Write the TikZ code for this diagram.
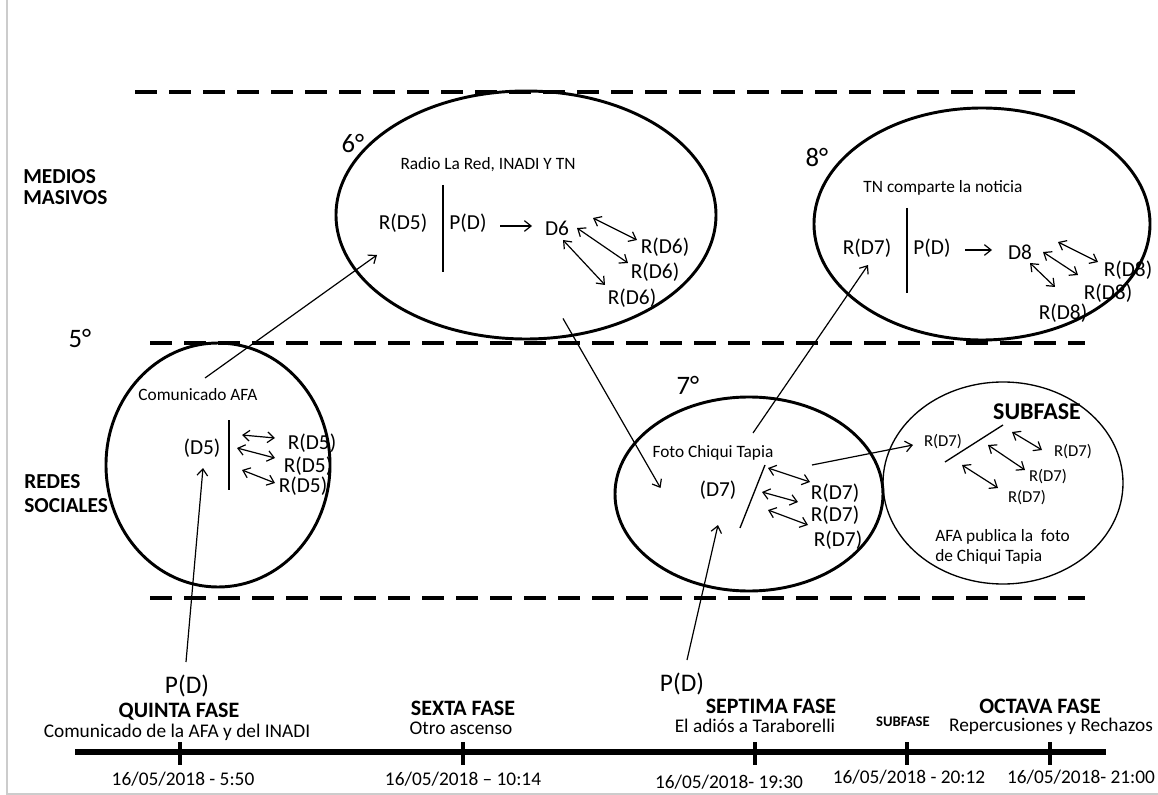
\documentclass[tikz,border=0pt]{standalone}
\usepackage{fontspec}
\setmainfont{Carlito}
\usepackage{tikz}
\usetikzlibrary{shapes,backgrounds}
\usetikzlibrary{arrows.meta}

\begin{document}
\begin{tikzpicture}[x=0.75pt,y=-0.75pt,
    txt/.style={font=\fontsize{16}{19}\selectfont,inner sep=0pt},
    note/.style={font=\fontsize{13}{15}\selectfont,inner sep=0pt},
    chico/.style={font=\fontsize{12.5}{15}\selectfont,inner sep=0pt},
    grado/.style={font=\fontsize{20}{24}\selectfont,inner sep=0pt},
    fase/.style={font=\bfseries\fontsize{16.5}{20}\selectfont,inner sep=0pt},
    lema/.style={font=\fontsize{14.5}{17}\selectfont,inner sep=0pt},
    fecha/.style={font=\fontsize{14.5}{17}\selectfont,inner sep=0pt},
    campo/.style={font=\bfseries\fontsize{16}{16}\selectfont,align=left,inner sep=0pt,anchor=west},
    ring/.style={draw,ellipse,line width=2.2pt,inner sep=0pt},
    limite/.style={line width=3pt,dash pattern=on 16.5pt off 9pt},
    barra/.style={line width=1pt},
    flecha/.style={line width=0.9pt,-{Straight Barb[length=5pt,width=8pt]}},
    ida/.style={line width=0.9pt,{Straight Barb[length=5pt,width=8pt]}-{Straight Barb[length=5pt,width=8pt]}}]
    \useasboundingbox (0,0) rectangle (1158,795);
    \draw[gray!40,line width=1pt] (7,0) -- (7,794) -- (1158,794);

    \draw[limite] (135,92) -- (1085,92);
    \draw[limite] (150,343) -- (1085,343);
    \draw[limite] (150,598) -- (1085,598);

    \node[campo] (medios) at (23,187) {MEDIOS\\MASIVOS};
    \node[campo,font=\bfseries\fontsize{16}{18}\selectfont] (redes) at (24,494) {REDES\\SOCIALES};

    \node[ring,minimum width=285pt,minimum height=186pt] (e6) at (526,215) {};
    \node[ring,minimum width=252pt,minimum height=174pt] (e8) at (982,224) {};
    \node[ring,minimum width=168pt,minimum height=183pt] (c5) at (218,465) {};
    \node[ring,minimum width=201pt,minimum height=145.5pt] (c7) at (749,494) {};
    \node[ring,line width=1pt,minimum width=180pt,minimum height=151.5pt] (cs) at (1003,483) {};

    \node[grado] (g6) at (353,143) {6°};
    \node[note] (radio) at (488,165) {Radio La Red, INADI Y TN};
    \node[txt] (rd5e) at (403,223) {R(D5)};
    \node[txt] (pd6) at (468,223) {P(D)};
    \node[txt] (d6) at (557,228) {D6};
    \node[txt] (rd6a) at (665,247) {R(D6)};
    \node[txt] (rd6b) at (655,272) {R(D6)};
    \node[txt] (rd6c) at (632,298) {R(D6)};
    \draw[barra] (443,185) -- (443,272);
    \draw[flecha] ([shift={(32,3)}]pd6.center) -- ([shift={(-25,-2)}]d6.center);
    \draw[ida] ([shift={(36,-10)}]d6.center) -- ([shift={(-28,-7)}]rd6a.center);
    \draw[ida] ([shift={(20,0)}]d6.center) -- ([shift={(-27,-9)}]rd6b.center);
    \draw[ida] ([shift={(6,12)}]d6.center) -- ([shift={(-27,-13)}]rd6c.center);

    \node[grado] (g8) at (817,157) {8°};
    \node[note] (tn) at (943,188) {TN comparte la noticia};
    \node[txt] (rd7e) at (867,248) {R(D7)};
    \node[txt] (pd8) at (932,248) {P(D)};
    \node[txt] (d8) at (1020,252) {D8};
    \node[txt] (rd8a) at (1128,270) {R(D8)};
    \node[txt] (rd8b) at (1108,293) {R(D8)};
    \node[txt] (rd8c) at (1063,313) {R(D8)};
    \draw[barra] (907,208) -- (907,293);
    \draw[flecha] ([shift={(33,2)}]pd8.center) -- ([shift={(-28,-2)}]d8.center);
    \draw[ida] ([shift={(38,-10)}]d8.center) -- ([shift={(-30,-8)}]rd8a.center);
    \draw[ida] ([shift={(23,0)}]d8.center) -- ([shift={(-30,-18)}]rd8b.center);
    \draw[ida] ([shift={(10,11)}]d8.center) -- ([shift={(-8,-26)}]rd8c.center);

    \node[grado] (g5) at (80,338) {5°};
    \node[note] (com5) at (198,395) {Comunicado AFA};
    \node[txt] (d5) at (202,448) {(D5)};
    \node[txt] (rd5a) at (312,443) {R(D5)};
    \node[txt] (rd5b) at (308,466) {R(D5)};
    \node[txt] (rd5c) at (303,486) {R(D5)};
    \draw[barra] (229,420) -- (229,490);
    \draw[ida] ([shift={(40,-13)}]d5.center) -- ([shift={(-37,-5)}]rd5a.center);
    \draw[ida] ([shift={(35,0)}]d5.center) -- ([shift={(-33,-8)}]rd5b.center);
    \draw[ida] ([shift={(40,22)}]d5.center) -- ([shift={(-28,-3)}]rd5c.center);

    \node[grado] (g7) at (688,385) {7°};
    \node[note] (foto) at (713,453) {Foto Chiqui Tapia};
    \node[txt] (d7) at (718,490) {(D7)};
    \node[txt] (r7a) at (835,493) {R(D7)};
    \node[txt] (r7b) at (835,515) {R(D7)};
    \node[txt] (r7c) at (838,540) {R(D7)};
    \draw[barra] (765,465) -- (740,528);
    \draw[ida] ([shift={(50,-22)}]d7.center) -- ([shift={(-25,-11)}]r7a.center);
    \draw[ida] ([shift={(44,2)}]d7.center) -- ([shift={(-37,-13)}]r7b.center);
    \draw[ida] ([shift={(50,20)}]d7.center) -- ([shift={(-30,-15)}]r7c.center);

    \node[font=\bfseries\fontsize{18}{22}\selectfont,inner sep=0pt] (subf) at (1037,412) {SUBFASE};
    \node[chico] (rs0) at (943,442) {R(D7)};
    \node[chico] (rsa) at (1073,452) {R(D7)};
    \node[chico] (rsb) at (1048,477) {R(D7)};
    \node[chico] (rsc) at (1027,498) {R(D7)};
    \node[note,align=left,anchor=west,font=\fontsize{13}{15}\selectfont] (afa) at (935,547) {AFA publica la\ \ foto\\de Chiqui Tapia};
    \draw[barra] (945,462) -- (1003,425);
    \draw[ida] ([shift={(69,-10)}]rs0.center) -- ([shift={(-31,-2)}]rsa.center);
    \draw[ida] ([shift={(45,3)}]rs0.center) -- ([shift={(-23,-7)}]rsb.center);
    \draw[ida] ([shift={(19,23)}]rs0.center) -- ([shift={(-29,-10)}]rsc.center);

    \draw[flecha] ([shift={(7,-17)}]com5.center) -- ([shift={(-26,32)}]rd5e.center);
    \draw[flecha] ([shift={(37,-22)}]e6.south) -- ([shift={(47,-6)}]c7.west);
    \draw[flecha] ([shift={(40,-20)}]foto.center) -- ([shift={(1,17)}]rd7e.center);
    \draw[flecha] ([shift={(-23,-28)}]r7a.center) -- ([shift={(-30,3)}]rs0.center);

    \draw[line width=4pt] (75,752) -- (1106,752);
    \foreach \t in {180,463,755,907,1050}
        \draw[line width=3pt] (\t,742) -- (\t,765);

    \node[font=\fontsize{19}{23}\selectfont,inner sep=0pt] (pd5) at (187,686) {P(D)};
    \node[font=\fontsize{19}{23}\selectfont,inner sep=0pt] (pd7) at (682,684) {P(D)};
    \draw[flecha] ([shift={(-1,-24)}]pd5.center) -- ([shift={(1,20)}]d5.center);
    \draw[flecha] ([shift={(5,-24)}]pd7.center) -- ([shift={(0,35)}]d7.center);

    \node[fase] (quinta) at (179,712) {QUINTA FASE};
    \node[lema] (quintal) at (177,732) {Comunicado de la AFA y del INADI};
    \node[fase] (sexta) at (463,708) {SEXTA FASE};
    \node[lema] (sextal) at (461,728) {Otro ascenso};
    \node[fase] (septima) at (771,706) {SEPTIMA FASE};
    \node[lema] (septimal) at (755,726) {El adiós a Taraborelli};
    \node[font=\bfseries\fontsize{11}{13}\selectfont,inner sep=0pt] (subt) at (903,722) {SUBFASE};
    \node[fase] (octava) at (1040,706) {OCTAVA FASE};
    \node[lema] (octaval) at (1051,726) {Repercusiones y Rechazos};

    \node[fecha] (f1) at (183,779) {16/05/2018 - 5:50};
    \node[fecha] (f2) at (463,779) {16/05/2018 – 10:14};
    \node[fecha] (f3) at (729,782) {16/05/2018- 19:30};
    \node[fecha] (f4) at (909,777) {16/05/2018 - 20:12};
    \node[fecha] (f5) at (1081,777) {16/05/2018- 21:00};
\end{tikzpicture}
\end{document}
